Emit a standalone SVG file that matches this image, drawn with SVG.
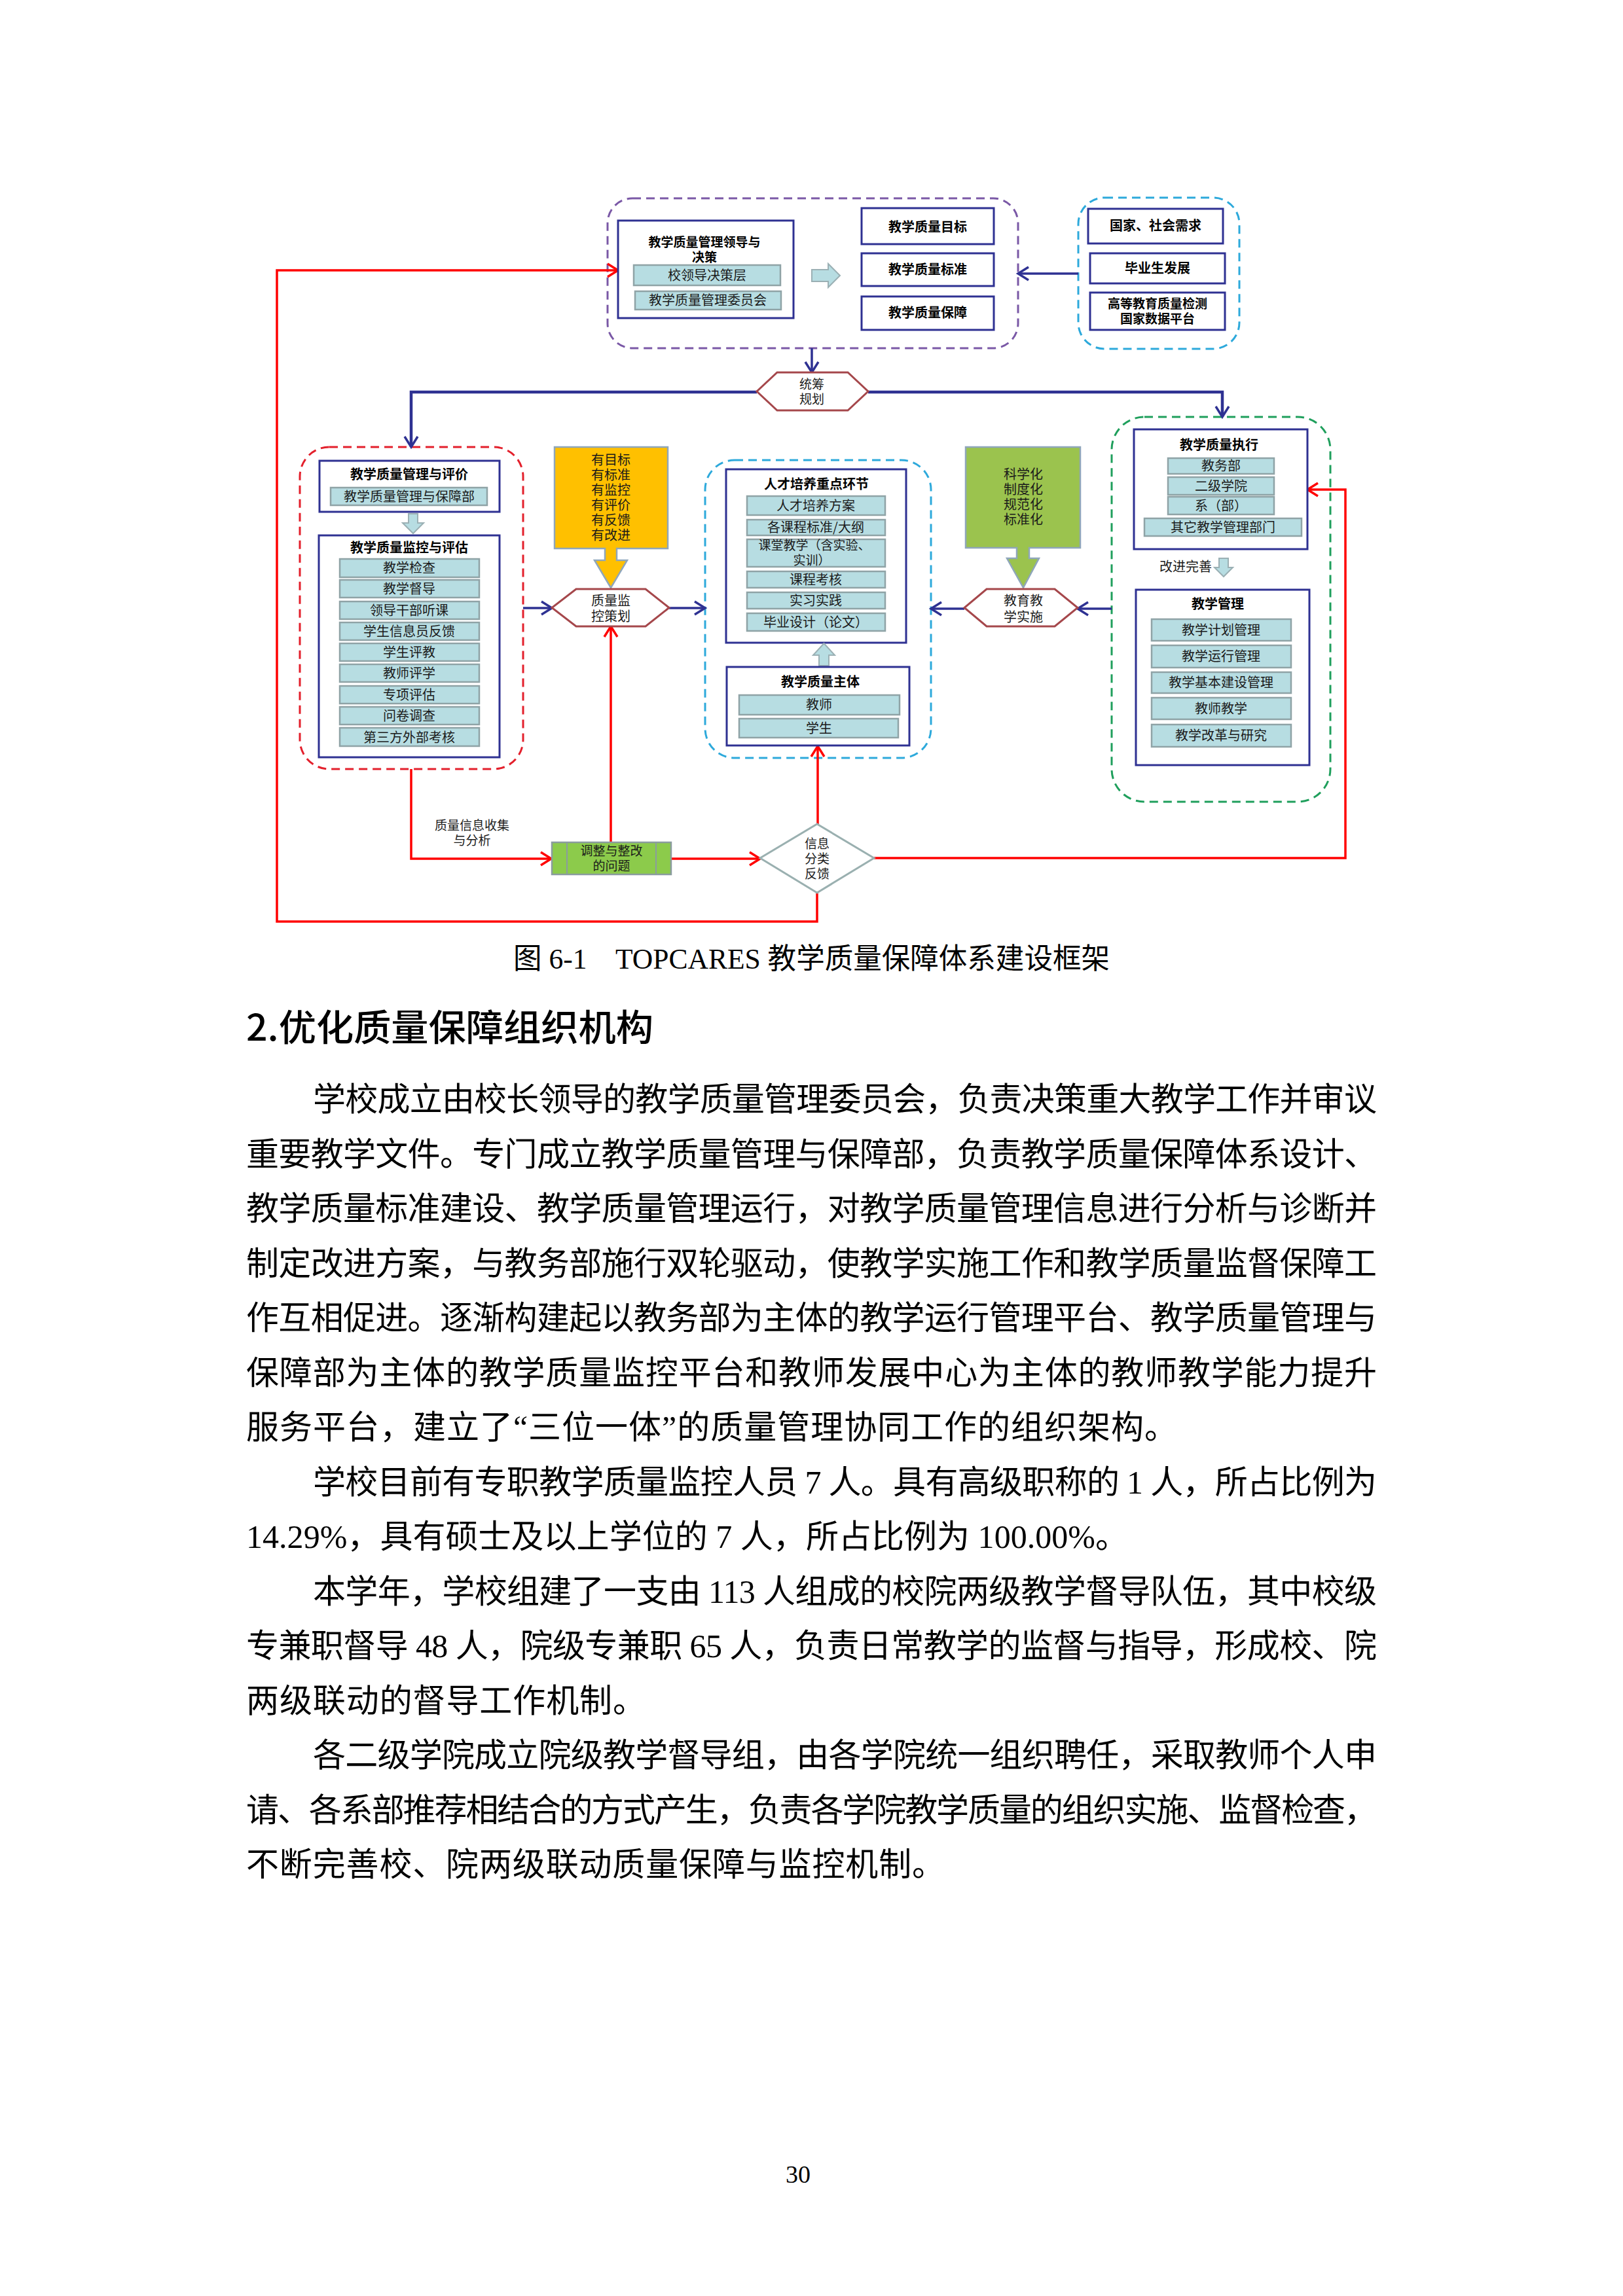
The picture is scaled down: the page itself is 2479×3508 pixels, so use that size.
<svg xmlns="http://www.w3.org/2000/svg" width="2479" height="3508" viewBox="0 0 2479 3508">
<defs>
<style>
.box{fill:#fff;stroke:#2E3192;stroke-width:3}
.item{fill:#B7DDE2;stroke:#8FA3A6;stroke-width:2.5}
.blk{fill:#B7DDE2;stroke:#9BB0B4;stroke-width:2}
.hex{fill:#fff;stroke:#A5474B;stroke-width:3}
.t{font-family:"Noto Sans CJK SC","Noto Sans",sans-serif;font-size:20px;fill:#1a1a1a;text-anchor:middle}
.s{font-size:19px}
.b{font-weight:700;fill:#000}
.blue{fill:none;stroke:#2E3192;stroke-width:3.5}
.red{fill:none;stroke:#FF0000;stroke-width:3.5}
.dash{fill:none;stroke-width:3;stroke-dasharray:13 8}
.body{font-family:"Liberation Serif","Noto Sans CJK SC",serif;font-size:50px;fill:#000}
</style>
<marker id="ab" markerUnits="userSpaceOnUse" markerWidth="22" markerHeight="26" refX="18" refY="12" orient="auto">
<path d="M2,2 L18,12 L2,22" fill="none" stroke="#2E3192" stroke-width="3.5"/>
</marker>
<marker id="ar" markerUnits="userSpaceOnUse" markerWidth="22" markerHeight="26" refX="18" refY="12" orient="auto">
<path d="M2,2 L18,12 L2,22" fill="none" stroke="#FF0000" stroke-width="3.5"/>
</marker>
</defs>
<rect width="2479" height="3508" fill="#fff"/>

<g id="containers">
<rect x="928" y="303" width="627" height="229" rx="38" class="dash" stroke="#7A58A6"/>
<rect x="1647" y="302" width="246" height="231" rx="40" class="dash" stroke="#2DA9DB"/>
<rect x="458" y="683" width="341" height="492" rx="45" class="dash" stroke="#E3202C"/>
<rect x="1077" y="703" width="345" height="455" rx="45" class="dash" stroke="#2DA9DB"/>
<rect x="1698" y="637" width="334" height="588" rx="50" class="dash" stroke="#1F9F5C"/>
</g>

<g id="connectors">
<path class="blue" d="M1240,532 V569" marker-end="url(#ab)"/>
<path class="blue" style="stroke-width:4.5" d="M1156,599 H628 V683" marker-end="url(#ab)"/>
<path class="blue" style="stroke-width:4.5" d="M1326,599 H1867 V637" marker-end="url(#ab)"/>
<path class="blue" d="M1647,418 H1555" marker-end="url(#ab)"/>
<path class="blue" d="M799,929 H843" marker-end="url(#ab)"/>
<path class="blue" d="M1022,929 H1077" marker-end="url(#ab)"/>
<path class="blue" d="M1473,930 H1422" marker-end="url(#ab)"/>
<path class="blue" d="M1698,930 H1646" marker-end="url(#ab)"/>
<path class="red" d="M628,1175 V1312 H842" marker-end="url(#ar)"/>
<path class="red" d="M933,1287 V957" marker-end="url(#ar)"/>
<path class="red" d="M1025,1312 H1161" marker-end="url(#ar)"/>
<path class="red" d="M1249,1259 V1140" marker-end="url(#ar)"/>
<path class="red" d="M1335,1311 H2055 V748 H1997" marker-end="url(#ar)"/>
<path class="red" d="M1248,1364 V1408 H423 V413 H944" marker-end="url(#ar)"/>
</g>

<g id="leader">
<rect x="944" y="337" width="268" height="149" class="box"/>
<text class="t b s" x="1076" y="377">教学质量管理领导与</text>
<text class="t b s" x="1076" y="400">决策</text>
<rect x="968" y="405" width="224" height="31" class="item"/>
<text class="t" x="1080" y="428">校领导决策层</text>
<rect x="970" y="445" width="223" height="28" class="item"/>
<text class="t" x="1081" y="466">教学质量管理委员会</text>
</g>
<g id="arrow-leader">
<polygon class="blk" points="1240,412 1265,412 1265,403 1283,421 1265,439 1265,430 1240,430"/>
</g>
<g id="goal"><rect x="1316" y="318" width="202" height="55" class="box"/><text class="t b" x="1417" y="354">教学质量目标</text></g>
<g id="standard"><rect x="1316" y="387" width="202" height="50" class="box"/><text class="t b" x="1417" y="419">教学质量标准</text></g>
<g id="guarantee"><rect x="1316" y="453" width="202" height="51" class="box"/><text class="t b" x="1417" y="485">教学质量保障</text></g>

<g id="demand"><rect x="1662" y="319" width="206" height="53" class="box"/><text class="t b" x="1765" y="352">国家、社会需求</text></g>
<g id="graduate"><rect x="1665" y="387" width="206" height="46" class="box"/><text class="t b" x="1768" y="417">毕业生发展</text></g>
<g id="platform"><rect x="1665" y="447" width="206" height="57" class="box"/><text class="t b s" x="1768" y="471">高等教育质量检测</text><text class="t b s" x="1768" y="494">国家数据平台</text></g>

<g id="plan-hex">
<polygon class="hex" points="1187,569 1295,569 1326,598 1295,627 1187,627 1156,598"/>
<text class="t s" x="1240" y="594">统筹</text>
<text class="t s" x="1240" y="617">规划</text>
</g>

<g id="eval">
<rect x="488" y="704" width="275" height="78" class="box"/>
<text class="t b" x="625" y="732">教学质量管理与评价</text>
<rect x="505" y="745" width="239" height="27" class="item"/>
<text class="t" x="625" y="766">教学质量管理与保障部</text>
</g>
<g id="arrow-eval"><polygon class="blk" points="624,785 638,785 638,799 647,799 631,815 615,799 624,799"/></g>
<g id="monitor">
<rect x="487" y="818" width="276" height="339" class="box"/>
<text class="t b" x="625" y="844">教学质量监控与评估</text>
<rect x="519" y="854" width="213" height="28" class="item"/><text class="t" x="625" y="875">教学检查</text>
<rect x="519" y="886" width="213" height="27" class="item"/><text class="t" x="625" y="907">教学督导</text>
<rect x="519" y="919" width="213" height="27" class="item"/><text class="t" x="625" y="940">领导干部听课</text>
<rect x="519" y="951" width="213" height="27" class="item"/><text class="t" x="625" y="972">学生信息员反馈</text>
<rect x="519" y="983" width="213" height="27" class="item"/><text class="t" x="625" y="1004">学生评教</text>
<rect x="519" y="1015" width="213" height="27" class="item"/><text class="t" x="625" y="1036">教师评学</text>
<rect x="519" y="1048" width="213" height="27" class="item"/><text class="t" x="625" y="1069">专项评估</text>
<rect x="519" y="1080" width="213" height="27" class="item"/><text class="t" x="625" y="1101">问卷调查</text>
<rect x="519" y="1112" width="213" height="28" class="item"/><text class="t" x="625" y="1134">第三方外部考核</text>
</g>

<g id="six-have">
<polygon points="847,683 1020,683 1020,838 942,838 942,856 958,856 933,898 908,856 924,856 924,838 847,838" fill="#FFC000" stroke="#8FA6BA" stroke-width="2.5"/>
<text class="t" x="933" y="710">有目标</text>
<text class="t" x="933" y="733">有标准</text>
<text class="t" x="933" y="756">有监控</text>
<text class="t" x="933" y="779">有评价</text>
<text class="t" x="933" y="802">有反馈</text>
<text class="t" x="933" y="825">有改进</text>
</g>
<g id="monitor-hex">
<polygon class="hex" points="880,900 986,900 1022,928.5 986,957 880,957 843,928.5"/>
<text class="t" x="933" y="925">质量监</text>
<text class="t" x="933" y="949">控策划</text>
</g>

<g id="talent">
<rect x="1109" y="717" width="275" height="265" class="box"/>
<text class="t b" x="1247" y="747">人才培养重点环节</text>
<rect x="1141" y="758" width="211" height="29" class="item"/><text class="t" x="1246" y="780">人才培养方案</text>
<rect x="1141" y="794" width="211" height="24" class="item"/><text class="t" x="1246" y="813">各课程标准/大纲</text>
<rect x="1141" y="824" width="211" height="42" class="item"/><text class="t s" x="1244" y="840">课堂教学（含实验、</text><text class="t s" x="1240" y="863">实训）</text>
<rect x="1141" y="873" width="211" height="25" class="item"/><text class="t" x="1246" y="893">课程考核</text>
<rect x="1141" y="905" width="211" height="25" class="item"/><text class="t" x="1246" y="925">实习实践</text>
<rect x="1141" y="937" width="211" height="27" class="item"/><text class="t" x="1246" y="958">毕业设计（论文）</text>
</g>
<g id="arrow-subject"><polygon class="blk" points="1251,1017 1266,1017 1266,1001 1275,1001 1258.5,983 1242,1001 1251,1001"/></g>
<g id="subject">
<rect x="1110" y="1019" width="279" height="120" class="box"/>
<text class="t b" x="1253" y="1049">教学质量主体</text>
<rect x="1129" y="1062" width="245" height="30" class="item"/><text class="t" x="1251" y="1084">教师</text>
<rect x="1129" y="1098" width="243" height="29" class="item"/><text class="t" x="1251" y="1120">学生</text>
</g>

<g id="four-ize">
<polygon points="1475,683 1650,683 1650,837 1572,837 1572,853 1587,853 1563,898 1538,853 1553,853 1553,837 1475,837" fill="#9BC34E" stroke="#8FA6BA" stroke-width="2.5"/>
<text class="t" x="1563" y="732">科学化</text>
<text class="t" x="1563" y="755">制度化</text>
<text class="t" x="1563" y="778">规范化</text>
<text class="t" x="1563" y="801">标准化</text>
</g>
<g id="impl-hex">
<polygon class="hex" points="1507,900 1611,900 1646,928.5 1611,957 1507,957 1473,928.5"/>
<text class="t" x="1563" y="925">教育教</text>
<text class="t" x="1563" y="950">学实施</text>
</g>

<g id="execute">
<rect x="1732" y="656" width="265" height="183" class="box"/>
<text class="t b" x="1862" y="687">教学质量执行</text>
<rect x="1784" y="700" width="162" height="24" class="item"/><text class="t" x="1865" y="719">教务部</text>
<rect x="1784" y="729" width="162" height="27" class="item"/><text class="t" x="1865" y="750">二级学院</text>
<rect x="1784" y="759" width="162" height="27" class="item"/><text class="t" x="1865" y="780">系（部）</text>
<rect x="1748" y="792" width="240" height="27" class="item"/><text class="t" x="1868" y="813">其它教学管理部门</text>
</g>
<g id="improve">
<text class="t" x="1811" y="873">改进完善</text>
<polygon class="blk" points="1862,853 1876,853 1876,867 1883,867 1869,881 1855,867 1862,867"/>
</g>
<g id="manage">
<rect x="1735" y="901" width="265" height="268" class="box"/>
<text class="t b" x="1860" y="930">教学管理</text>
<rect x="1759" y="946" width="213" height="33" class="item"/><text class="t" x="1865" y="970">教学计划管理</text>
<rect x="1759" y="986" width="213" height="34" class="item"/><text class="t" x="1865" y="1010">教学运行管理</text>
<rect x="1759" y="1027" width="213" height="32" class="item"/><text class="t" x="1865" y="1050">教学基本建设管理</text>
<rect x="1759" y="1066" width="213" height="33" class="item"/><text class="t" x="1865" y="1090">教师教学</text>
<rect x="1759" y="1107" width="213" height="34" class="item"/><text class="t" x="1865" y="1131">教学改革与研究</text>
</g>

<g id="collect-label">
<text class="t s" x="721" y="1268">质量信息收集</text>
<text class="t s" x="721" y="1291">与分析</text>
</g>
<g id="adjust">
<rect x="843" y="1287" width="182" height="49" fill="#8CCB4B" stroke="#8A9C9E" stroke-width="2.5"/>
<line x1="866" y1="1287" x2="866" y2="1336" stroke="#8A9C9E" stroke-width="2"/>
<line x1="1002" y1="1287" x2="1002" y2="1336" stroke="#8A9C9E" stroke-width="2"/>
<text class="t s" x="934" y="1307">调整与整改</text>
<text class="t s" x="934" y="1330">的问题</text>
</g>
<g id="feedback">
<polygon points="1248,1259 1335,1311 1248,1364 1161,1311" fill="#fff" stroke="#9AB0B0" stroke-width="3"/>
<text class="t s" x="1248" y="1296">信息</text>
<text class="t s" x="1248" y="1319">分类</text>
<text class="t s" x="1248" y="1342">反馈</text>
</g>

<g id="page-text">
<text x="784" y="1480" style="font-family:'Liberation Serif','Noto Sans CJK SC',serif;font-size:44px" textLength="911" lengthAdjust="spacingAndGlyphs">图 6-1　TOPCARES 教学质量保障体系建设框架</text>
<text x="376" y="1590" style="font-family:'Noto Sans CJK SC',sans-serif;font-size:56px;font-weight:500" textLength="622" lengthAdjust="spacingAndGlyphs">2.优化质量保障组织机构</text>
<text class="body" x="478" y="1697" textLength="1625">学校成立由校长领导的教学质量管理委员会，负责决策重大教学工作并审议</text>
<text class="body" x="376" y="1780.5" textLength="1727">重要教学文件。专门成立教学质量管理与保障部，负责教学质量保障体系设计、</text>
<text class="body" x="376" y="1864" textLength="1727">教学质量标准建设、教学质量管理运行，对教学质量管理信息进行分析与诊断并</text>
<text class="body" x="376" y="1947.5" textLength="1727">制定改进方案，与教务部施行双轮驱动，使教学实施工作和教学质量监督保障工</text>
<text class="body" x="376" y="2031" textLength="1727">作互相促进。逐渐构建起以教务部为主体的教学运行管理平台、教学质量管理与</text>
<text class="body" x="376" y="2114.5" textLength="1727">保障部为主体的教学质量监控平台和教师发展中心为主体的教师教学能力提升</text>
<text class="body" x="376" y="2198" textLength="1422">服务平台，建立了“三位一体”的质量管理协同工作的组织架构。</text>
<text class="body" x="478" y="2281.5" textLength="1625">学校目前有专职教学质量监控人员 7 人。具有高级职称的 1 人，所占比例为</text>
<text class="body" x="376" y="2365" textLength="1347">14.29%，具有硕士及以上学位的 7 人，所占比例为 100.00%。</text>
<text class="body" x="478" y="2448.5" textLength="1625">本学年，学校组建了一支由 113 人组成的校院两级教学督导队伍，其中校级</text>
<text class="body" x="376" y="2532" textLength="1727">专兼职督导 48 人，院级专兼职 65 人，负责日常教学的监督与指导，形成校、院</text>
<text class="body" x="376" y="2615.5" textLength="610">两级联动的督导工作机制。</text>
<text class="body" x="478" y="2699" textLength="1625">各二级学院成立院级教学督导组，由各学院统一组织聘任，采取教师个人申</text>
<text class="body" x="376" y="2782.5" textLength="1727">请、各系部推荐相结合的方式产生，负责各学院教学质量的组织实施、监督检查，</text>
<text class="body" x="376" y="2866" textLength="1067">不断完善校、院两级联动质量保障与监控机制。</text>
<text x="1219" y="3335" style="font-family:'Liberation Serif',serif;font-size:38px;text-anchor:middle">30</text>
</g>
</svg>
